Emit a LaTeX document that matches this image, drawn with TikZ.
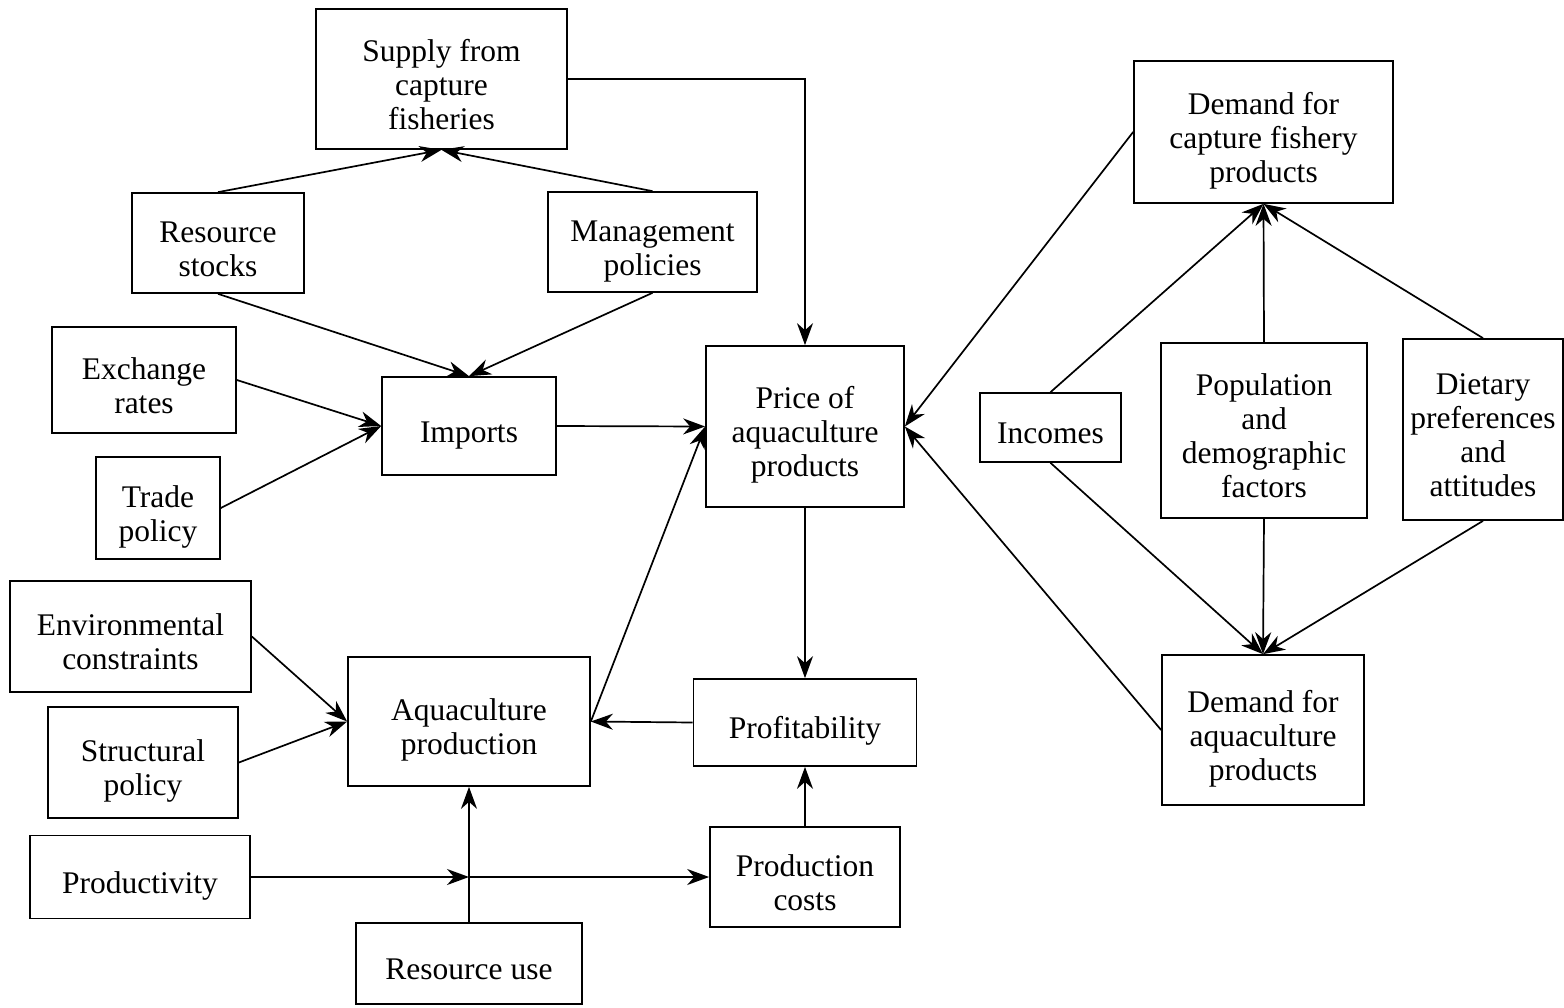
\documentclass[tikz,border=0pt]{standalone}
\usepackage{fontspec}
\setmainfont{Liberation Serif}
\usepackage{tikz}
\usetikzlibrary{arrows.meta,positioning,calc}
% struts that push the box text a little below centre
\newcommand{\tstrut}{\rule{0pt}{40pt}}
\newcommand{\bstrut}{\rule[-8pt]{0pt}{8pt}}
\newcommand{\lbl}[1]{\tstrut#1\bstrut}

\begin{document}
\begin{tikzpicture}[x=1pt, y=-1pt,
    every node/.style={font=\fontsize{31.5}{34}\selectfont},
    blk/.style={draw, line width=1.7pt, align=center, inner sep=0pt},
    lnk/.style={-{Stealth[length=22pt, width=16pt, inset=7pt]}, line width=1.7pt}]
    \useasboundingbox (0,0) rectangle (1564,1007);

    % supply side (top left)
    \node[blk, minimum width=251pt, minimum height=140pt] (supply) at (441.5, 79) {\lbl{Supply from\\capture\\fisheries}};
    \node[blk, minimum width=172pt, minimum height=100pt] (stocks) at (218, 243) {\lbl{Resource\\stocks}};
    \node[blk, minimum width=209pt, minimum height=100pt] (mgmt) at (652.5, 242) {\lbl{Management\\policies}};
    \node[blk, minimum width=184pt, minimum height=106pt] (exch) at (144, 380) {\lbl{Exchange\\rates}};
    \node[blk, minimum width=174pt, minimum height=98pt] (imports) at (469, 426) {\lbl{Imports}};
    \node[blk, minimum width=124pt, minimum height=102pt] (trade) at (158, 508) {\lbl{Trade\\policy}};
    \node[blk, minimum width=198pt, minimum height=161pt] (price) at (805, 426.5) {\lbl{Price of\\aquaculture\\products}};

    % production side (bottom left)
    \node[blk, minimum width=241pt, minimum height=111pt] (env) at (130.5, 636.5) {\lbl{Environmental\\constraints}};
    \node[blk, minimum width=242pt, minimum height=129pt] (aqua) at (469, 721.5) {\lbl{Aquaculture\\production}};
    \node[blk, minimum width=190pt, minimum height=111pt] (struct) at (143, 762.5) {\lbl{Structural\\policy}};
    \node[blk, minimum width=223pt, minimum height=87pt] (profit) at (805, 722.5) {\lbl{Profitability}};
    \node[blk, minimum width=220pt, minimum height=83pt] (prodv) at (140, 877) {\lbl{Productivity}};
    \node[blk, minimum width=190pt, minimum height=100pt] (pcost) at (805, 877) {\lbl{Production\\costs}};
    \node[blk, minimum width=226pt, minimum height=81pt] (ruse) at (469, 963.5) {\lbl{Resource use}};
    \coordinate (mid) at (469, 877);

    % demand side (right)
    \node[blk, minimum width=259pt, minimum height=142pt] (dcap) at (1263.5, 132) {\lbl{Demand for\\capture fishery\\products}};
    \node[blk, minimum width=141pt, minimum height=69pt] (incomes) at (1050.5, 427.5) {\lbl{Incomes}};
    \node[blk, minimum width=206pt, minimum height=175pt] (popul) at (1264, 430.5) {\lbl{Population\\and\\demographic\\factors}};
    \node[blk, minimum width=160pt, minimum height=181pt] (diet) at (1483, 429.5) {\lbl{Dietary\\preferences\\and\\attitudes}};
    \node[blk, minimum width=202pt, minimum height=150pt] (daqua) at (1263, 730) {\lbl{Demand for\\aquaculture\\products}};

    % links
    \draw[lnk] (stocks.north) -- (supply.south);
    \draw[lnk] (mgmt.north) -- (supply.south);
    \draw[lnk] (supply.east) -| (price.north);
    \draw[lnk] (stocks.south) -- (imports.north);
    \draw[lnk] (mgmt.south) -- (imports.north);
    \draw[lnk] (exch.east) -- (imports.west);
    \draw[lnk] (trade.east) -- (imports.west);
    \draw[lnk] (imports.east) -- (price.west);
    \draw[lnk] (aqua.east) -- (price.west);
    \draw[lnk] (price.south) -- (profit.north);
    \draw[lnk] (profit.west) -- (aqua.east);
    \draw[lnk] (env.east) -- (aqua.west);
    \draw[lnk] (struct.east) -- (aqua.west);
    \draw[lnk] (ruse.north) -- (aqua.south);
    \draw[lnk] (prodv.east) -- (mid);
    \draw[lnk] (mid) -- (pcost.west);
    \draw[lnk] (pcost.north) -- (profit.south);
    \draw[lnk] (dcap.west) -- (price.east);
    \draw[lnk] (daqua.west) -- (price.east);
    \draw[lnk] (incomes.north) -- (dcap.south);
    \draw[lnk] (popul.north) -- (dcap.south);
    \draw[lnk] (diet.north) -- (dcap.south);
    \draw[lnk] (incomes.south) -- (daqua.north);
    \draw[lnk] (popul.south) -- (daqua.north);
    \draw[lnk] (diet.south) -- (daqua.north);
\end{tikzpicture}
\end{document}
